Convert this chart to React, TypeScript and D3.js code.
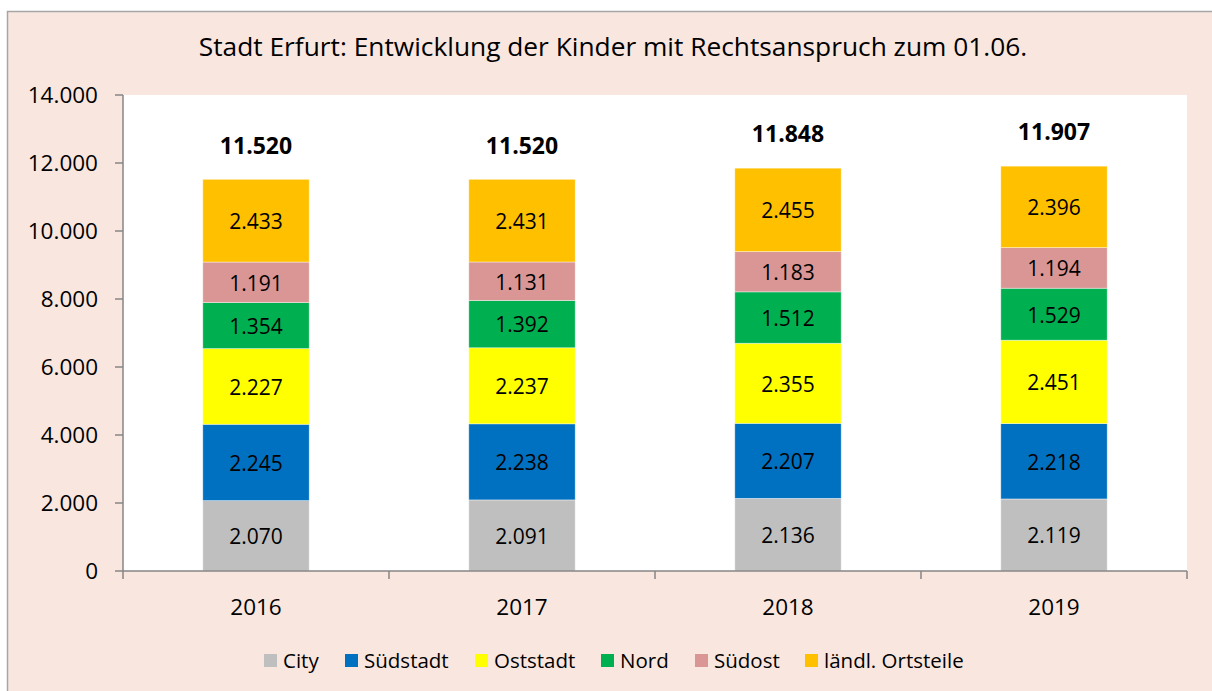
import React from "react";
import * as d3 from "d3";

const years = ["2016", "2017", "2018", "2019"];
const seriesNames = ["City", "Südstadt", "Oststadt", "Nord", "Südost", "ländl. Ortsteile"];
const seriesColors = ["#BFBFBF", "#0070C0", "#FFFF00", "#00B050", "#D99694", "#FFC000"];
const city = [2070, 2091, 2136, 2119];
const suedstadt = [2245, 2238, 2207, 2218];
const oststadt = [2227, 2237, 2355, 2451];
const nord = [1354, 1392, 1512, 1529];
const suedost = [1191, 1131, 1183, 1194];
const laendl = [2433, 2431, 2455, 2396];
const totals = [11520, 11520, 11848, 11907];
const yTicks = [0, 2000, 4000, 6000, 8000, 10000, 12000, 14000];
const title = "Stadt Erfurt: Entwicklung der Kinder mit Rechtsanspruch zum 01.06.";

const W = 1212, H = 691;
const plot = { left: 123, right: 1187, top: 95, bottom: 571 };
const FONT = "'Open Sans', sans-serif";

const fmt = (v: number) => d3.format(",")(v).replace(/,/g, ".");

export default function App() {
  const values = [city, suedstadt, oststadt, nord, suedost, laendl];
  const table = years.map((y, i) => {
    const row: any = { year: y };
    seriesNames.forEach((s, k) => (row[s] = values[k][i]));
    return row;
  });
  const stack = d3.stack<any>().keys(seriesNames)(table);
  const x = d3.scaleBand().domain(years).range([plot.left, plot.right]).paddingInner(0.6).paddingOuter(0.3);
  const xb = d3.scaleBand().domain(years).range([plot.left, plot.right]);
  const y = d3.scaleLinear().domain([0, 14000]).range([plot.bottom, plot.top]);

  const legendX = [264, 345, 475, 601, 695, 805];

  return (
    <svg width={W} height={H} style={{ position: "absolute", left: 0, top: 0 }} fontFamily={FONT}>
      <rect x={0} y={0} width={W} height={H} fill="#ffffff" />
      <rect x={7.5} y={11.5} width={W + 20} height={H + 20} fill="#F9E6DF" stroke="#A6A6A6" strokeWidth={1.5} />
      <text x={613} y={56} textAnchor="middle" fontSize={26.3} fill="#000">{title}</text>
      <rect x={plot.left} y={plot.top} width={plot.right - plot.left} height={plot.bottom - plot.top} fill="#ffffff" />
      {stack.map((layer, k) => (
        <g key={k}>
          {layer.map((d, i) => (
            <g key={i}>
              <rect
                x={x(years[i])!}
                y={y(d[1])}
                width={x.bandwidth()}
                height={y(d[0]) - y(d[1])}
                fill={seriesColors[k]}
                stroke="#ffffff"
                strokeOpacity={0.5}
                strokeWidth={0.8}
              />
              <text
                x={x(years[i])! + x.bandwidth() / 2}
                y={(y(d[0]) + y(d[1])) / 2}
                dy="0.4em"
                textAnchor="middle"
                fontSize={21}
                fill="#000"
              >
                {fmt(values[k][i])}
              </text>
            </g>
          ))}
        </g>
      ))}
      {years.map((yr, i) => (
        <text
          key={yr}
          x={x(yr)! + x.bandwidth() / 2}
          y={y(d3.sum(values, (v) => v[i])) - 34}
          dy="0.36em"
          textAnchor="middle"
          fontSize={23}
          fontWeight="bold"
          fill="#000"
        >
          {fmt(totals[i])}
        </text>
      ))}
      {/* y axis */}
      <line x1={plot.left} x2={plot.left} y1={plot.top} y2={plot.bottom} stroke="#868686" strokeWidth={1.5} />
      {yTicks.map((t) => (
        <g key={t}>
          <line x1={plot.left - 8} x2={plot.left} y1={y(t)} y2={y(t)} stroke="#868686" strokeWidth={1.5} />
          <text x={98} y={y(t)} dy="0.36em" textAnchor="end" fontSize={22.5} fill="#000">
            {fmt(t)}
          </text>
        </g>
      ))}
      {/* x axis */}
      <line x1={plot.left} x2={plot.right} y1={plot.bottom} y2={plot.bottom} stroke="#868686" strokeWidth={1.5} />
      {[...years.map((yr) => xb(yr)!), plot.right].map((px, i) => (
        <line key={i} x1={px} x2={px} y1={plot.bottom} y2={plot.bottom + 8} stroke="#868686" strokeWidth={1.5} />
      ))}
      {years.map((yr) => (
        <text key={yr} x={xb(yr)! + xb.bandwidth() / 2} y={607} dy="0.36em" textAnchor="middle" fontSize={22.5} fill="#000">
          {yr}
        </text>
      ))}
      {/* legend */}
      {seriesNames.map((s, k) => (
        <g key={s}>
          <rect x={legendX[k]} y={654} width={13} height={13} fill={seriesColors[k]} />
          <text x={legendX[k] + 19} y={660.5} dy="0.36em" fontSize={20.5} fill="#000">{s}</text>
        </g>
      ))}
    </svg>
  );
}
